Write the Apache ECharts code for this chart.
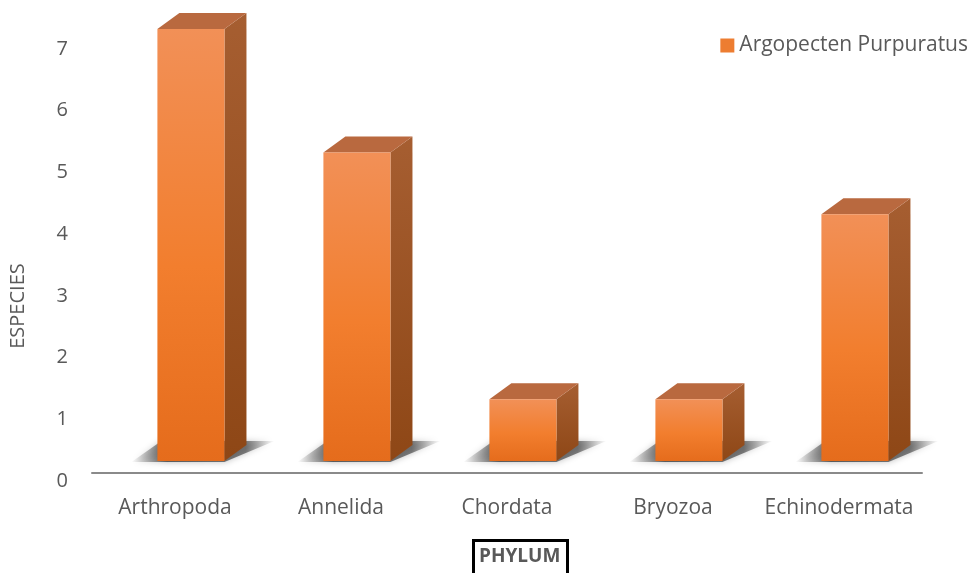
<!DOCTYPE html>
<html><head><meta charset="utf-8">
<script src="https://cdn.jsdelivr.net/npm/echarts/dist/echarts.min.js"></script>
<style>html,body{margin:0;padding:0;background:#fff}#c{width:971px;height:573px}</style>
</head><body><div id="c"></div>
<script>
const categories = ['Arthropoda', 'Annelida', 'Chordata', 'Bryozoa', 'Echinodermata'];
const values = [7, 5, 1, 1, 4];
const seriesName = 'Argopecten Purpuratus';
const yTicks = [0, 1, 2, 3, 4, 5, 6, 7];
const xTitle = 'PHYLUM';
const yTitle = 'ESPECIES';

const FONT = 'Open Sans';
const chart = echarts.init(document.getElementById('c'));

function renderItem(params, api) {
  const idx = api.value(0);
  const top = api.coord([idx, api.value(1)]);
  const base = api.coord([idx, 0]);
  const band = api.size([1, 0])[0];
  const w = band * 0.404;
  const shiftX = band * 0.096, shiftY = -20;
  const dx = 22, dy = -16;
  const x0 = top[0] + shiftX - w / 2, x1 = x0 + w;
  const yt = top[1] + shiftY, yb = base[1] + shiftY;
  return {
    type: 'group',
    children: [
      { type: 'polygon', shape: { points: [[x0 - 26, yb + 1], [x1, yb + 1], [x1 + dx + 28, yb - 20], [x0 + 4, yb - 20]] },
        style: { fill: new echarts.graphic.LinearGradient(0, 0, 1, 0, [{ offset: 0, color: 'rgba(60,60,60,0)' }, { offset: 0.25, color: 'rgba(50,50,50,0.75)' }, { offset: 0.8, color: 'rgba(50,50,50,0.6)' }, { offset: 1, color: 'rgba(60,60,60,0)' }]),
          shadowBlur: 6, shadowColor: 'rgba(0,0,0,0.4)' } },
      { type: 'polygon', shape: { points: [[x1, yt], [x1 + dx, yt + dy], [x1 + dx, yb + dy], [x1, yb]] },
        style: { fill: new echarts.graphic.LinearGradient(0, 0, 0, 1, [{ offset: 0, color: '#A65E31' }, { offset: 1, color: '#8E4716' }]) } },
      { type: 'polygon', shape: { points: [[x0, yt], [x0 + dx, yt + dy], [x1 + dx, yt + dy], [x1, yt]] },
        style: { fill: '#B9693F' } },
      { type: 'rect', shape: { x: x0, y: yt, width: w, height: yb - yt },
        style: { fill: new echarts.graphic.LinearGradient(0, 0, 0, 1, [{ offset: 0, color: '#F29057' }, { offset: 0.55, color: '#F27E2E' }, { offset: 1, color: '#E56C1C' }]) } }
    ]
  };
}

chart.setOption({
  animation: false,
  textStyle: { fontFamily: FONT },
  title: {
    text: xTitle, left: 473, top: 540,
    borderColor: '#000', borderWidth: 3, padding: [7, 7, 20, 6],
    textStyle: { fontFamily: FONT, fontSize: 19, fontWeight: 'bold', color: '#595959' }
  },
  grid: { left: 92, right: 49, top: 49, bottom: 92, containLabel: false, outerBoundsMode: 'none' },
  legend: {
    data: [seriesName], right: 3, top: 35, padding: 0, icon: 'rect', itemWidth: 14, itemHeight: 14, itemGap: 6,
    textStyle: { fontFamily: FONT, fontSize: 21, color: '#595959' }
  },
  xAxis: {
    type: 'category', data: categories, offset: -8,
    axisLine: { lineStyle: { color: '#8a8a8a', width: 2 } },
    axisTick: { show: false },
    axisLabel: { fontFamily: FONT, fontSize: 21, color: '#595959', margin: 25, interval: 0, hideOverlap: false }
  },
  yAxis: {
    type: 'value', min: yTicks[0], max: yTicks[yTicks.length - 1], interval: 1,
    axisLine: { show: false }, axisTick: { show: false }, splitLine: { show: false },
    axisLabel: { fontFamily: FONT, fontSize: 20, color: '#595959', margin: 24 },
    name: yTitle, nameLocation: 'middle', nameGap: 64,
    nameTextStyle: { fontFamily: FONT, fontSize: 20, color: '#595959', padding: [0, 82, 0, 0] }
  },
  series: [{
    name: seriesName, type: 'custom', renderItem: renderItem,
    itemStyle: { color: '#ED7D31' },
    encode: { x: 0, y: 1 },
    data: values.map((v, i) => [i, v])
  }]
});
</script></body></html>
